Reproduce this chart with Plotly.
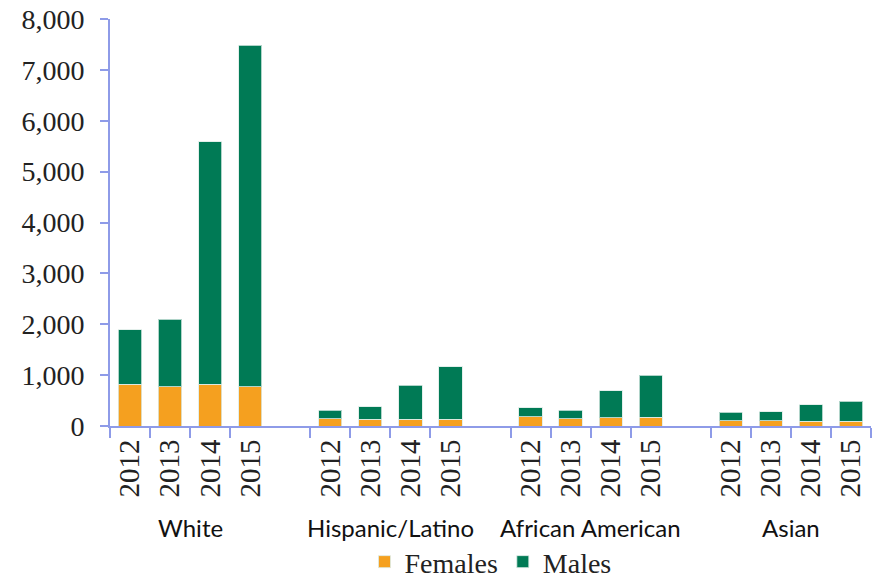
import plotly.graph_objects as go

groups = ["White", "Hispanic/Latino", "African American", "Asian"]
years = ["2012", "2013", "2014", "2015"]
females = [
    [820, 770, 820, 770],
    [145, 135, 130, 130],
    [185, 140, 165, 175],
    [100, 100, 95, 90],
]
totals = [
    [1890, 2100, 5590, 7480],
    [305, 375, 805, 1160],
    [355, 310, 695, 995],
    [270, 280, 420, 485],
]
males = [[t - f for t, f in zip(tr, fr)] for tr, fr in zip(totals, females)]

cats, tickvals, ticktext = [], [], []
xs, fem, mal = [], [], []
for gi, g in enumerate(groups):
    for yi, y in enumerate(years):
        c = f"{g}|{y}"
        cats.append(c)
        tickvals.append(c)
        ticktext.append(y)
        xs.append(c)
        fem.append(females[gi][yi])
        mal.append(males[gi][yi])
    if gi < len(groups) - 1:
        cats.append(" " * (gi + 1))

ORANGE = "#F5A01F"
GREEN = "#007A55"
AXIS = "#8E9BE8"
SERIF = "Liberation Serif, Times New Roman, serif"
edge = dict(color="rgba(220,235,230,0.8)", width=1)

fig = go.Figure()
fig.add_bar(x=xs, y=fem, name="Females", marker=dict(color=ORANGE, line=edge))
fig.add_bar(x=xs, y=mal, name="Males", marker=dict(color=GREEN, line=edge))

fig.update_layout(
    barmode="stack",
    bargap=0.42,
    width=873, height=581,
    margin=dict(l=110, r=2, t=19, b=155, autoexpand=False),
    plot_bgcolor="white", paper_bgcolor="white",
    showlegend=True,
    legend=dict(orientation="h", x=0.5, xanchor="center", y=-0.334, yanchor="middle",
                traceorder="normal",
                font=dict(family=SERIF, size=28, color="#222"),
                tracegroupgap=0),
    font=dict(family=SERIF, color="#222"),
)
fig.update_xaxes(
    type="category", categoryorder="array", categoryarray=cats,
    tickmode="array", tickvals=tickvals, ticktext=ticktext,
    tickangle=-90, tickson="boundaries", automargin=False,
    ticks="outside", ticklen=10, tickcolor=AXIS, tickwidth=2,
    showline=True, linecolor=AXIS, linewidth=2,
    tickfont=dict(family=SERIF, size=29, color="#222"),
    showgrid=False, range=[-0.5, len(cats) - 0.5],
)
fig.update_yaxes(
    range=[0, 8000], dtick=1000, tickformat=",d", automargin=False,
    ticks="outside", ticklen=8, tickcolor=AXIS, tickwidth=2,
    ticklabelstandoff=10, ticklabeloverflow="allow",
    showline=True, linecolor=AXIS, linewidth=2,
    tickfont=dict(family=SERIF, size=28, color="#222"),
    showgrid=False, zeroline=False,
)

for gi, g in enumerate(groups):
    fig.add_annotation(
        x=(gi * 5 + 1.5 + 0.5) / len(cats), xref="paper", y=-0.25, yref="paper",
        text=g, showarrow=False, xanchor="center", yanchor="middle",
        font=dict(family="Lato", size=24, color="#111"),
    )

fig.write_html("out.html", config={"displayModeBar": False},
               post_script="document.body.style.margin='0';")
